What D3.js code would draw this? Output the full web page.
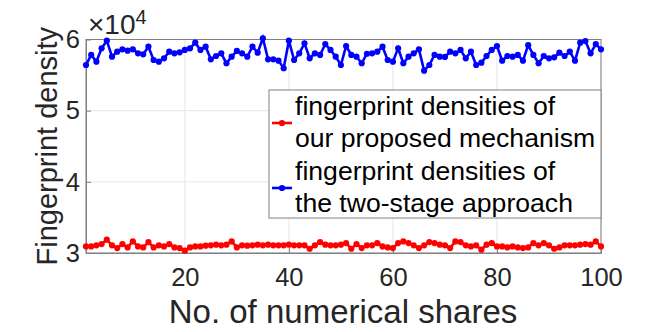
<!DOCTYPE html>
<html>
<head>
<meta charset="utf-8">
<script src="https://cdn.jsdelivr.net/npm/d3@7"></script>
<style>
  body { margin: 0; background: #fff; }
  svg { font-family: 'Liberation Sans', Arial, sans-serif; }
</style>
</head>
<body>
<div id="container"></div>
<script>
const w = 664
const h = 332
const margin = { top: 39.5, right: 63, bottom: 79, left: 86 }

// data
const shares = d3.range(1, 101)
const proposed = [
  30930, 30930, 31072, 31260, 31868, 31072, 30697, 31260, 30790, 31633,
  30930, 30790, 31540, 30790, 31072, 30930, 31260, 30790, 30697, 30323,
  30790, 30930, 30930, 31030, 31072, 31166, 31072, 31166, 31633, 30790,
  31072, 31030, 31072, 31166, 31072, 31166, 31072, 31072, 31072, 31166,
  31072, 31072, 31072, 30600, 31072, 31540, 31166, 31072, 31072, 31166,
  31400, 30600, 31260, 30697, 31072, 31072, 31400, 30930, 30790, 30697,
  31400, 31633, 31400, 31072, 30697, 31072, 31540, 31400, 31166, 31072,
  30697, 31633, 31540, 31072, 30930, 31072, 30463, 31166, 31400, 30930,
  30930, 30790, 30930, 30790, 30697, 30790, 31400, 31072, 31400, 31072,
  30600, 30790, 31072, 31072, 31072, 31166, 31260, 31166, 31633, 30930
]
const twoStage = [
  56420, 57830, 56890, 58760, 59830, 57590, 58290, 58620, 58430, 58620,
  58060, 57920, 58990, 57120, 56890, 57360, 58290, 58060, 58200, 58530,
  58760, 59550, 58530, 58990, 57220, 57680, 58060, 56660, 57590, 58390,
  58060, 57590, 58990, 58150, 60170, 57220, 57220, 57030, 55960, 59830,
  57120, 58060, 59460, 57360, 58060, 57830, 59360, 58530, 57590, 56420,
  59090, 57830, 57590, 56660, 58000, 58060, 58290, 58990, 57120, 56890,
  58760, 56660, 57590, 58060, 58620, 55620, 56420, 57830, 57590, 57550,
  58290, 58060, 58530, 57360, 58290, 56420, 56750, 57680, 58530, 59090,
  57030, 57680, 57590, 57830, 57030, 59200, 57830, 56660, 57680, 57360,
  57500, 58150, 57680, 58290, 57030, 59550, 59780, 58060, 59360, 58620
]
const xTicks = [20, 40, 60, 80, 100]
const yTicks = [30000, 40000, 50000, 60000]
const legendLines = [
  ['fingerprint densities of', 'our proposed mechanism'],
  ['fingerprint densities of', 'the two-stage approach']
]
const colors = ['#ff0000', '#0000ff']

const svg = d3.select('#container')
              .append('svg')
              .attr('width', w)
              .attr('height', h)

const xScale = d3.scaleLinear()
                 .domain([1, 100])
                 .range([margin.left, w - margin.right])
const yScale = d3.scaleLinear()
                 .domain([30000, 60000])
                 .range([h - margin.bottom, margin.top])

// grid
svg.append('g')
   .selectAll('line')
   .data(xTicks)
   .enter()
   .append('line')
   .attr('x1', d => xScale(d)).attr('x2', d => xScale(d))
   .attr('y1', margin.top).attr('y2', h - margin.bottom)
   .attr('stroke', '#e6e6e6')
svg.append('g')
   .selectAll('line')
   .data(yTicks)
   .enter()
   .append('line')
   .attr('x1', margin.left).attr('x2', w - margin.right)
   .attr('y1', d => yScale(d)).attr('y2', d => yScale(d))
   .attr('stroke', '#e6e6e6')

// axes
const xAxis = d3.axisBottom(xScale)
                .tickValues(xTicks)
                .tickSizeInner(-5)
                .tickSizeOuter(0)
                .tickPadding(15)
const yAxis = d3.axisLeft(yScale)
                .tickValues(yTicks)
                .tickFormat(d => d / 10000)
                .tickSizeInner(-5)
                .tickSizeOuter(0)
                .tickPadding(6)

const gx = svg.append('g')
   .attr('transform', 'translate(0, ' + (h - margin.bottom) + ')')
   .call(xAxis)
const gy = svg.append('g')
   .attr('transform', 'translate(' + margin.left + ', 0)')
   .call(yAxis)
;[gx, gy].forEach(g => {
  g.selectAll('path, line').attr('stroke', '#808080')
  g.selectAll('text')
   .attr('fill', '#262626')
   .style('font-size', '25.5px')
   .style('font-family', "'Liberation Sans', Arial, sans-serif")
})

// box (top and right)
svg.append('rect')
   .attr('x', margin.left).attr('y', margin.top)
   .attr('width', w - margin.left - margin.right)
   .attr('height', h - margin.top - margin.bottom)
   .attr('fill', 'none')
   .attr('stroke', '#808080')

// exponent label
const expo = svg.append('text')
   .attr('x', 88).attr('y', 34)
   .attr('fill', '#262626')
   .style('font-size', '28px')
expo.append('tspan').text('\u00d710')
expo.append('tspan').attr('dy', -10).style('font-size', '20px').text('4')

// axis titles
svg.append('text')
   .attr('x', (margin.left + w - margin.right) / 2 - 0.5)
   .attr('y', 323)
   .attr('text-anchor', 'middle')
   .attr('fill', '#262626')
   .style('font-size', '33px')
   .text('No. of numerical shares')
svg.append('text')
   .attr('transform', 'translate(57, ' + (margin.top + h - margin.bottom) / 2 + ') rotate(-90)')
   .attr('text-anchor', 'middle')
   .attr('fill', '#262626')
   .style('font-size', '29px')
   .text('Fingerprint density')

// series
const series = [proposed, twoStage]
const line = d3.line()
               .x((d, i) => xScale(shares[i]))
               .y(d => yScale(d))
series.forEach((vals, k) => {
  svg.append('path')
     .datum(vals)
     .attr('d', line)
     .attr('fill', 'none')
     .attr('stroke', colors[k])
     .attr('stroke-width', 2.6)
  svg.append('g')
     .selectAll('circle')
     .data(vals)
     .enter()
     .append('circle')
     .attr('cx', (d, i) => xScale(shares[i]))
     .attr('cy', d => yScale(d))
     .attr('r', 3.1)
     .attr('fill', colors[k])
})

// legend
const lg = svg.append('g')
lg.append('rect')
  .attr('x', 269).attr('y', 90)
  .attr('width', 332).attr('height', 128)
  .attr('fill', '#fff')
  .attr('stroke', '#808080')
legendLines.forEach((lines, k) => {
  const y0 = 115 + k * 65
  lg.append('line')
    .attr('x1', 272).attr('x2', 292)
    .attr('y1', y0 + 8).attr('y2', y0 + 8)
    .attr('stroke', colors[k])
    .attr('stroke-width', 2.6)
  lg.append('circle')
    .attr('cx', 282).attr('cy', y0 + 8).attr('r', 3.1)
    .attr('fill', colors[k])
  lines.forEach((t, j) => {
    lg.append('text')
      .attr('x', 295).attr('y', y0 + j * 32)
      .attr('fill', '#000')
      .style('font-size', '26.6px')
      .text(t)
  })
})
</script>
</body>
</html>
